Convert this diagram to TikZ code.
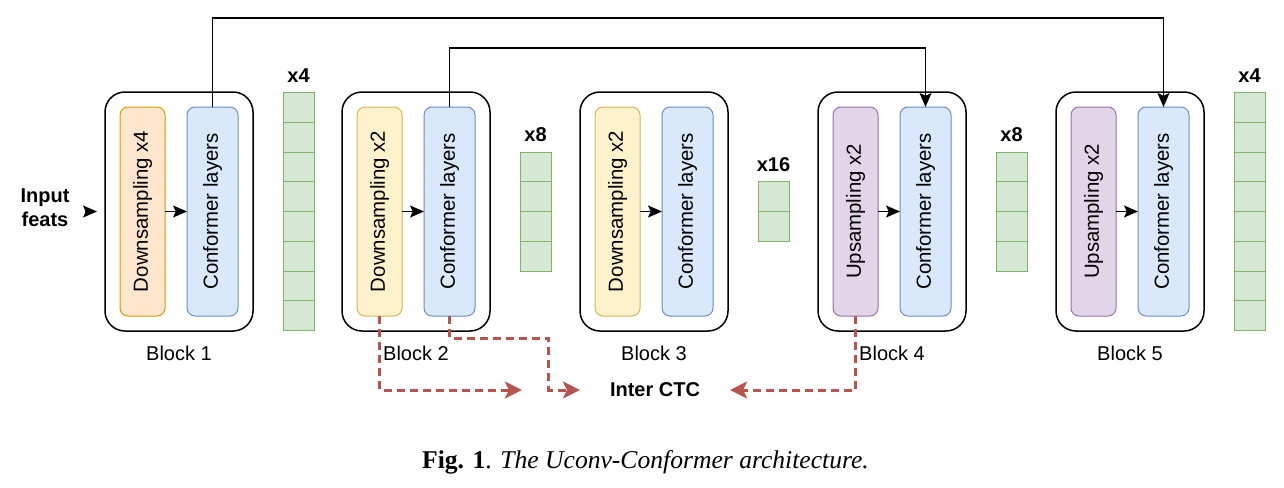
\documentclass[tikz,border=0pt]{standalone}
\usepackage{fontspec}
\usepackage{graphicx}
\setmainfont{Liberation Sans}
\newfontfamily\capfont{Liberation Serif}
\usetikzlibrary{positioning,arrows.meta,fit,calc}
\definecolor{UcOrange}{HTML}{FFE6CC}
\definecolor{UcOrangeLine}{HTML}{D79B00}
\definecolor{UcYellow}{HTML}{FFF2CC}
\definecolor{UcYellowLine}{HTML}{D6B656}
\definecolor{UcBlue}{HTML}{DAE8FC}
\definecolor{UcBlueLine}{HTML}{6C8EBF}
\definecolor{UcPurple}{HTML}{E1D5E7}
\definecolor{UcPurpleLine}{HTML}{9673A6}
\definecolor{UcGreen}{HTML}{D5E8D4}
\definecolor{UcGreenLine}{HTML}{82B366}
\definecolor{UcRed}{HTML}{B85450}
\tikzset{
  uc layer/.style={
    draw,
    line width=0.5pt,
    rounded corners=4pt,
    minimum height=104.5pt,
    inner sep=0pt,
    outer sep=0pt,
    font=\fontsize{10.2}{12}\selectfont
  },
  uc down4/.style={uc layer, fill=UcOrange, draw=UcOrangeLine, minimum width=22.5pt},
  uc down2/.style={uc layer, fill=UcYellow, draw=UcYellowLine, minimum width=22.5pt},
  uc up/.style={uc layer, fill=UcPurple, draw=UcPurpleLine, minimum width=22.5pt},
  uc conf/.style={uc layer, fill=UcBlue, draw=UcBlueLine, minimum width=25.5pt},
  uc block/.style={draw=black, line width=0.75pt, rounded corners=10pt, inner sep=7.5pt, outer sep=0pt},
  uc stack/.style={draw=UcGreenLine, fill=UcGreen, line width=0.5pt, inner sep=0pt, outer sep=0pt,
    minimum width=15.5pt, minimum height=#1*14.875pt},
  uc cell/.style={draw=UcGreenLine, line width=0.5pt},
  uc label/.style={font=\fontsize{10}{12}\selectfont},
  uc bold/.style={font=\fontsize{10}{12}\selectfont\bfseries, align=center},
  uc arrow/.style={-{Stealth[length=7pt,width=6pt,inset=1.4pt]}, line width=0.65pt},
  uc ctc/.style={-{Stealth[length=8.5pt,width=8.5pt,inset=2pt]}, line width=1.5pt, UcRed,
    dash pattern=on 4pt off 2.5pt}
}
\begin{document}
\begin{tikzpicture}[x=0.5pt, y=-0.5pt]
\useasboundingbox (0,0) rectangle (1284,487);
% encoder side
\node[uc down4] (d1) at (142.5,211.5) {\rotatebox{90}{Downsampling x4}};
\node[uc conf, right=11pt of d1] (c1) {\rotatebox{90}{Conformer layers}};
\node[uc block, fit=(d1)(c1)] (b1) {};
\node[uc stack=8, right=15pt of b1] (s1) {};
\node[uc down2, right=21.5pt of s1] (d2) {\rotatebox{90}{Downsampling x2}};
\node[uc conf, right=11pt of d2] (c2) {\rotatebox{90}{Conformer layers}};
\node[uc block, fit=(d2)(c2)] (b2) {};
\node[uc stack=4, right=15pt of b2] (s2) {};
\node[uc down2, right=22pt of s2] (d3) {\rotatebox{90}{Downsampling x2}};
\node[uc conf, right=11pt of d3] (c3) {\rotatebox{90}{Conformer layers}};
\node[uc block, fit=(d3)(c3)] (b3) {};
\node[uc stack=2, right=15pt of b3] (s3) {};
% decoder side
\node[uc up, right=22pt of s3] (u4) {\rotatebox{90}{Upsampling x2}};
\node[uc conf, right=11pt of u4] (c4) {\rotatebox{90}{Conformer layers}};
\node[uc block, fit=(u4)(c4)] (b4) {};
\node[uc stack=4, right=15pt of b4] (s4) {};
\node[uc up, right=22pt of s4] (u5) {\rotatebox{90}{Upsampling x2}};
\node[uc conf, right=11pt of u5] (c5) {\rotatebox{90}{Conformer layers}};
\node[uc block, fit=(u5)(c5)] (b5) {};
\node[uc stack=8, right=15pt of b5] (s5) {};
\foreach \s/\n in {s1/8,s2/4,s3/2,s4/4,s5/8}{
  \pgfmathtruncatemacro{\last}{\n-1}
  \foreach \i in {1,...,\last}
    \draw[uc cell] ($(\s.north west)!\i/\n!(\s.south west)$) -- ($(\s.north east)!\i/\n!(\s.south east)$);
}
% labels
\foreach \b/\t in {b1/1,b2/2,b3/3,b4/4,b5/5}
  \node[uc label, below=4pt of \b] (l\t) {Block \t};
\node[uc bold, above=1.5pt of s1] (m1) {x4};
\node[uc bold, above=1.5pt of s2] (m2) {x8};
\node[uc bold, above=1.5pt of s3] (m3) {x16};
\node[uc bold, above=1.5pt of s4] (m4) {x8};
\node[uc bold, above=1.5pt of s5] (m5) {x4};
\node[uc bold] (inp) at (45,207.5) {Input\\feats};
\node[uc bold] (ctc) at (655,390) {Inter CTC};
\node[anchor=base, font=\capfont\fontsize{12.8}{15}\selectfont] (cap) at (645.5,468)
  {{\bfseries Fig. 1}. {\itshape The Uconv-Conformer architecture.}};
% arrows
\draw[uc arrow, shorten <=4pt, shorten >=4pt] (b1.west -| inp.east) -- (b1.west);
\draw[uc arrow] (d1) -- (c1);
\draw[uc arrow] (d2) -- (c2);
\draw[uc arrow] (d3) -- (c3);
\draw[uc arrow] (u4) -- (c4);
\draw[uc arrow] (u5) -- (c5);
\draw[uc arrow] (c1.north) -- ++(0,-89) -| (c5.north);
\draw[uc arrow] (c2.north) -- ++(0,-59) -| (c4.north);
\draw[uc ctc, shorten >=11.5pt] (d2.south) |- ([xshift=-29pt]ctc.west);
\draw[uc ctc, shorten >=11.5pt] (c2.south) -- ++(0,22) -| ([xshift=-27pt]ctc.west) -- (ctc.west);
\draw[uc ctc, shorten >=11.5pt] (u4.south) |- (ctc.east);
\end{tikzpicture}
\end{document}
